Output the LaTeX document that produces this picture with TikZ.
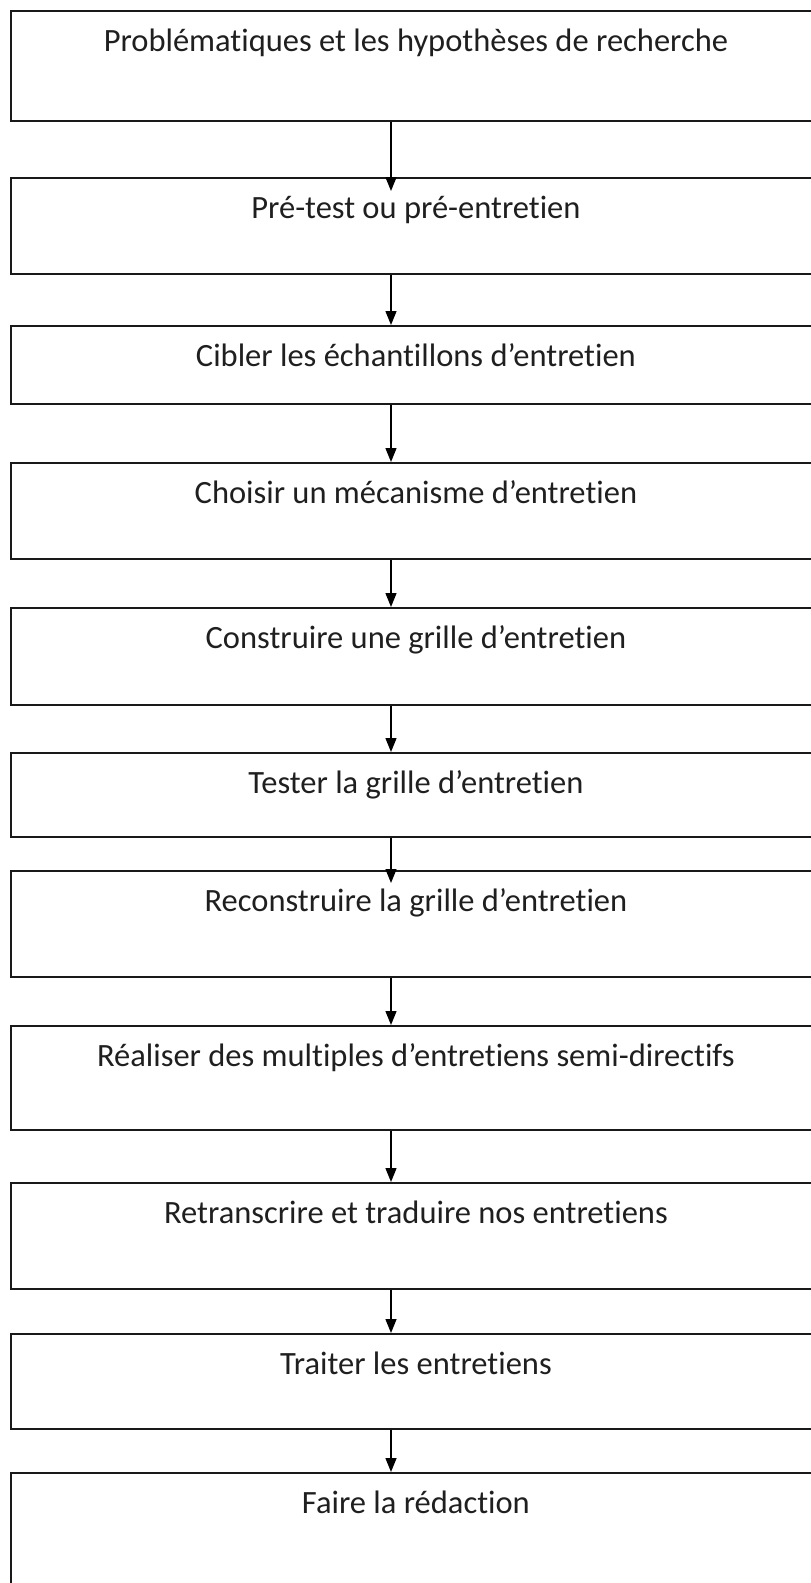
\documentclass[tikz,border=0pt]{standalone}
\usepackage{fontspec}
\setmainfont{Carlito}[Ligatures={TeX,NoCommon}]
\usetikzlibrary{arrows.meta}
\begin{document}
\begin{tikzpicture}[x=1pt,y=-1pt,
  stepbox/.style={draw=black!90, line width=1.8pt, rectangle, inner sep=0pt,
    minimum width=810pt, anchor=north west},
  steptext/.style={anchor=base, inner sep=0pt, text=black!88,
    font=\fontsize{32.5}{38}\selectfont},
  flow/.style={draw=black, line width=1.4pt,
    -{Triangle[length=14pt,width=11pt]}}]
\useasboundingbox (0,0) rectangle (811,1583);
\coordinate (ax) at (391,0);
% step boxes: top-left corner and height
\node[stepbox, minimum height=110pt] (b1)  at (10,10)   {};
\node[stepbox, minimum height=96pt]  (b2)  at (10,177)  {};
\node[stepbox, minimum height=78pt]  (b3)  at (10,325)  {};
\node[stepbox, minimum height=96pt]  (b4)  at (10,462)  {};
\node[stepbox, minimum height=97pt]  (b5)  at (10,607)  {};
\node[stepbox, minimum height=84pt]  (b6)  at (10,752)  {};
\node[stepbox, minimum height=106pt] (b7)  at (10,870)  {};
\node[stepbox, minimum height=104pt] (b8)  at (10,1025) {};
\node[stepbox, minimum height=106pt] (b9)  at (10,1182) {};
\node[stepbox, minimum height=95pt]  (b10) at (10,1333) {};
\node[stepbox, minimum height=140pt] (b11) at (10,1472) {};
% labels, set on a baseline 41pt under each box top
\node[steptext] (t1)  at ([yshift=-41pt]b1.north)  {Problématiques et les hypothèses de recherche};
\node[steptext] (t2)  at ([yshift=-41pt]b2.north)  {Pré-test ou pré-entretien};
\node[steptext] (t3)  at ([yshift=-41pt]b3.north)  {Cibler les échantillons d’entretien};
\node[steptext] (t4)  at ([yshift=-41pt]b4.north)  {Choisir un mécanisme d’entretien};
\node[steptext] (t5)  at ([yshift=-41pt]b5.north)  {Construire une grille d’entretien};
\node[steptext] (t6)  at ([yshift=-41pt]b6.north)  {Tester la grille d’entretien};
\node[steptext] (t7)  at ([yshift=-41pt]b7.north)  {Reconstruire la grille d’entretien};
\node[steptext] (t8)  at ([yshift=-41pt]b8.north)  {Réaliser des multiples d’entretiens semi-directifs};
\node[steptext] (t9)  at ([yshift=-41pt]b9.north)  {Retranscrire et traduire nos entretiens};
\node[steptext] (t10) at ([yshift=-41pt]b10.north) {Traiter les entretiens};
\node[steptext] (t11) at ([yshift=-41pt]b11.north) {Faire la rédaction};
% connectors
\draw[flow] (b1.south -| ax) -- ([yshift=-14pt]b2.north -| ax);
\draw[flow] (b2.south -| ax) -- (b3.north -| ax);
\draw[flow] (b3.south -| ax) -- (b4.north -| ax);
\draw[flow] (b4.south -| ax) -- (b5.north -| ax);
\draw[flow] (b5.south -| ax) -- (b6.north -| ax);
\draw[flow] (b6.south -| ax) -- ([yshift=-13pt]b7.north -| ax);
\draw[flow] (b7.south -| ax) -- (b8.north -| ax);
\draw[flow] (b8.south -| ax) -- (b9.north -| ax);
\draw[flow] (b9.south -| ax) -- (b10.north -| ax);
\draw[flow] (b10.south -| ax) -- (b11.north -| ax);
\end{tikzpicture}
\end{document}
